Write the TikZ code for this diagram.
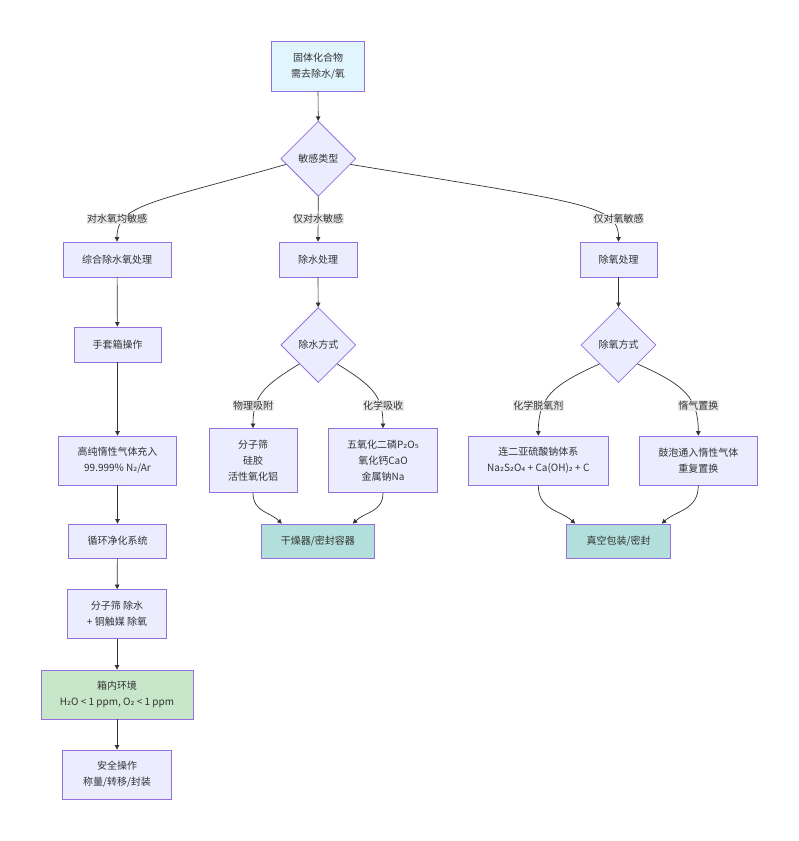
\documentclass[tikz,border=0pt]{standalone}
\usepackage{fontspec}
\setmainfont{Noto Sans CJK SC}
\newfontfamily\subfont{DejaVu Sans}
\newcommand{\lo}[1]{{\subfont #1}}
\usetikzlibrary{shapes.geometric, arrows.meta}

\definecolor{boxfill}{HTML}{ECECFF}
\definecolor{boxline}{HTML}{9370DB}
\definecolor{startfill}{HTML}{E1F5FE}
\definecolor{okfill}{HTML}{C8E6C9}
\definecolor{endfill}{HTML}{B2DFDB}
\definecolor{ink}{HTML}{333333}
\definecolor{labelbg}{HTML}{EAEAEA}

\begin{document}
\begin{tikzpicture}[x=1pt, y=1pt,
  every node/.style={text=ink, font=\fontsize{10}{16}\selectfont},
  box/.style={draw=boxline, fill=boxfill, line width=0.8pt, align=center, inner sep=0pt},
  choice/.style={diamond, aspect=1, draw=boxline, fill=boxfill, line width=0.8pt,
    inner sep=0pt, minimum width=75pt, minimum height=75pt},
  elabel/.style={fill=labelbg, inner sep=0.5pt},
  edge/.style={draw=ink, line width=0.7pt, -{Triangle[length=4.5pt, width=4.5pt]}}]
  \useasboundingbox (0,0) rectangle (799,-841);

  % 顶部：起点与判断
  \node[box, fill=startfill, minimum width=93pt, minimum height=50pt] (start) at (318,-66) {固体化合物\\需去除水/氧};
  \node[choice] (kind) at (318.3,-158.7) {敏感类型};

  % 三条分支的处理框
  \node[box, minimum width=108pt, minimum height=35pt] (both) at (117,-259.5) {综合除水氧处理};
  \node[box, minimum width=78pt, minimum height=35pt] (water) at (318,-259.5) {除水处理};
  \node[box, minimum width=77pt, minimum height=35pt] (oxy) at (618.5,-259.5) {除氧处理};

  % 左列：手套箱流程
  \node[box, minimum width=87pt, minimum height=35pt] (glove) at (117.5,-344.5) {手套箱操作};
  \node[box, minimum width=118pt, minimum height=49pt] (gas) at (117.5,-460.5) {高纯惰性气体充入\\99.999\% N\lo{₂}/Ar};
  \node[box, minimum width=98pt, minimum height=34pt] (loop) at (117.5,-541) {循环净化系统};
  \node[box, minimum width=99pt, minimum height=49pt] (purify) at (117,-614) {分子筛 除水\\+ 铜触媒 除氧};
  \node[box, fill=okfill, minimum width=152pt, minimum height=49pt] (inside) at (117,-694.5) {箱内环境\\H\lo{₂}O < 1 ppm, O\lo{₂} < 1 ppm};
  \node[box, minimum width=109pt, minimum height=49pt] (safe) at (117,-774.5) {安全操作\\称量/转移/封装};

  % 中列：除水
  \node[choice] (wway) at (318.3,-345) {除水方式};
  \node[box, minimum width=88pt, minimum height=64pt] (phys) at (253,-460.5) {分子筛\\硅胶\\活性氧化铝};
  \node[box, minimum width=109pt, minimum height=64pt] (chem) at (383,-460.5) {五氧化二磷P\lo{₂}O\lo{₅}\\氧化钙CaO\\金属钠Na};
  \node[box, fill=endfill, minimum width=113pt, minimum height=34pt] (dry) at (317.8,-541) {干燥器/密封容器};

  % 右列：除氧
  \node[choice] (oway) at (618.5,-345) {除氧方式};
  \node[box, minimum width=140pt, minimum height=49pt] (deox) at (538.3,-460.5) {连二亚硫酸钠体系\\Na\lo{₂}S\lo{₂}O\lo{₄} + Ca(OH)\lo{₂} + C};
  \node[box, minimum width=118pt, minimum height=49pt] (purge) at (698.3,-460.5) {鼓泡通入惰性气体\\重复置换};
  \node[box, fill=endfill, minimum width=104pt, minimum height=34pt] (vac) at (618.7,-541) {真空包装/密封};

  % 连线
  \draw[edge] (start) -- (kind);
  \draw[edge] (kind.190) .. controls (150,-203) and (117,-205) .. (both.north);
  \draw[edge] (kind) -- (water);
  \draw[edge] (kind.-10) .. controls (585,-203) and (618.5,-205) .. (oxy.north);

  \draw[edge] (both) -- (glove);
  \draw[edge] (glove) -- (gas);
  \draw[edge] (gas) -- (loop);
  \draw[edge] (loop) -- (purify);
  \draw[edge] (purify) -- (inside);
  \draw[edge] (inside) -- (safe);

  \draw[edge] (water) -- (wway);
  \draw[edge] (wway.south west) .. controls (265,-385) and (253,-395) .. (phys.north);
  \draw[edge] (wway.south east) .. controls (371,-385) and (383,-395) .. (chem.north);
  \draw[edge] (phys.south) .. controls (253,-512) and (270,-512) .. ([xshift=-36pt]dry.north);
  \draw[edge] (chem.south) .. controls (383,-512) and (365,-512) .. ([xshift=35pt]dry.north);

  \draw[edge] (oxy) -- (oway);
  \draw[edge] (oway.south west) .. controls (552,-385) and (538.3,-398) .. (deox.north);
  \draw[edge] (oway.south east) .. controls (685,-385) and (698.3,-398) .. (purge.north);
  \draw[edge] (deox.south) .. controls (538.3,-510) and (560,-510) .. ([xshift=-43.5pt]vac.north);
  \draw[edge] (purge.south) .. controls (698.3,-510) and (677,-510) .. ([xshift=43pt]vac.north);

  % 连线上的文字
  \node[elabel] (lboth) at (117,-219) {对水氧均敏感};
  \node[elabel] (lwater) at (318,-219) {仅对水敏感};
  \node[elabel] (loxy) at (618.5,-219) {仅对氧敏感};
  \node[elabel] (lphys) at (253,-405.5) {物理吸附};
  \node[elabel] (lchem) at (383,-405.5) {化学吸收};
  \node[elabel] (ldeox) at (538.3,-405.5) {化学脱氧剂};
  \node[elabel] (lpurge) at (698.3,-405.5) {惰气置换};
\end{tikzpicture}
\end{document}
